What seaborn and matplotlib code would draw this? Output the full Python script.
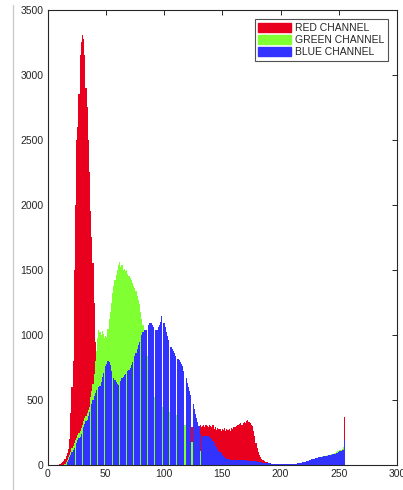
import numpy as np
import pandas as pd
import matplotlib
matplotlib.use("Agg")
import matplotlib.pyplot as plt
from matplotlib.patches import Patch
from matplotlib.lines import Line2D
import seaborn as sns

levels = list(range(256))

red_counts = (
    [0] * 10
    + [5, 10, 15, 20, 30, 50, 70, 90, 120, 200]
    + [400, 600, 800, 1500, 2000, 2500, 2600, 2850, 3150, 3250]
    + [3310, 3280, 3150, 2900, 2750, 2500, 2250, 1950, 1750, 1550]
    + [1250, 950, 750, 620, 560, 520, 500, 490, 480, 470]
    + [470, 460, 460, 450, 450, 440, 440, 430, 430, 420]
    + [420, 410, 410, 400, 400, 390, 390, 380, 380, 370]
    + [370, 360, 360, 350, 350, 350, 340, 340, 340, 330]
    + [330, 330, 320, 320, 320, 310, 310, 310, 300, 300]
    + [300, 300, 290, 290, 290, 290, 280, 280, 280, 280]
    + [280] * 10
    + [280, 280, 280, 280, 285, 285, 285, 290, 290, 290]
    + [290, 290, 290, 295, 295, 295, 300, 290, 300, 305]
    + [300, 310, 295, 300, 310, 290, 305, 300, 295, 310]
    + [300, 290, 305, 280, 295, 270, 285, 275, 280, 265]
    + [280, 270, 285, 260, 280, 270, 275, 265, 285, 280]
    + [290, 295, 300, 310, 305, 315, 320, 310, 325, 330]
    + [320, 335, 345, 330, 320, 310, 300, 260, 220, 170]
    + [130, 100, 80, 60, 50, 40, 30, 25, 20, 20]
    + [15, 12, 10, 10, 9, 8, 8, 7, 7, 6]
    + [6, 5, 5, 5, 5, 5, 5, 5, 5, 5]
    + [5] * 10
    + [5] * 10
    + [5, 5, 6, 6, 6, 7, 30, 35, 40, 45]
    + [50, 55, 60, 65, 70, 75, 75, 80, 85, 85]
    + [90, 95, 100, 105, 110, 370]
)

green_counts = (
    [0] * 15
    + [10, 20, 40, 60, 80]
    + [100, 130, 150, 170, 190, 210, 230, 250, 265, 285]
    + [310, 335, 360, 380, 400, 425, 450, 520, 570, 620]
    + [700, 800, 880, 980, 1040, 1020, 1000, 1030, 1010, 980]
    + [990, 985, 1050, 1120, 1180, 1250, 1320, 1380, 1420, 1460]
    + [1500, 1540, 1560, 1520, 1540, 1500, 1510, 1490, 1500, 1470]
    + [1450, 1440, 1420, 1400, 1380, 1360, 1340, 1300, 1270, 1240]
    + [1180, 1120, 1080, 1020, 980, 920, 840, 760, 660, 580]
    + [550, 530, 520, 510, 500, 490, 480, 470, 460, 450]
    + [440, 430, 425, 420, 415, 410, 405, 400, 395, 390]
    + [390, 385, 380, 375, 370, 365, 360, 340, 310, 280]
    + [250, 230, 210, 190, 180, 170, 160, 150, 145, 140]
    + [120, 105, 95, 85, 70, 60, 55, 45, 40, 35]
    + [35, 32, 30, 28, 26, 25, 24, 22, 20, 19]
    + [18, 17, 16, 15, 15, 14, 14, 13, 13, 12]
    + [12] * 10
    + [10] * 10
    + [9] * 10
    + [8] * 10
    + [8] * 10
    + [8, 8, 9, 9, 10, 11, 12, 14, 16, 18]
    + [20, 23, 26, 29, 32, 36, 40, 43, 46, 50]
    + [52, 55, 57, 60, 62, 64, 66, 68, 70, 72]
    + [74, 76, 78, 80, 84, 88, 92, 96, 100, 104]
    + [108, 112, 118, 126, 135, 120]
)

blue_counts = (
    [0] * 17
    + [20, 40, 60]
    + [80, 100, 115, 130, 0, 170, 190, 205, 215, 240]
    + [0, 290, 315, 335, 350, 380, 410, 0, 470, 500]
    + [530, 555, 575, 0, 600, 610, 640, 680, 710, 0]
    + [760, 780, 800, 790, 770, 720, 0, 670, 655, 640]
    + [625, 615, 0, 650, 670, 680, 690, 700, 0, 720]
    + [730, 745, 770, 790, 0, 840, 860, 890, 920, 950]
    + [0, 1000, 1020, 1040, 1035, 1040, 0, 1080, 1090, 1095]
    + [1080, 1060, 0, 1040, 1040, 1060, 1080, 1100, 1150, 0]
    + [1090, 1060, 1020, 990, 960, 0, 910, 890, 880, 860]
    + [840, 0, 815, 805, 795, 780, 760, 720, 0, 670]
    + [630, 600, 570, 540, 0, 470, 430, 390, 360, 330]
    + [300, 0, 240, 220, 215, 220, 225, 225, 220, 215]
    + [210, 200, 185, 170, 150, 135, 120, 110, 100, 90]
    + [80, 70, 62, 55, 50, 46, 44, 42, 40, 40]
    + [40, 40, 40, 38, 38, 38, 37, 37, 36, 36]
    + [35, 35, 34, 33, 32, 31, 30, 30, 28, 27]
    + [26, 25, 23, 21, 20, 18, 17, 16, 15, 14]
    + [13, 12, 11, 10, 10, 9, 9, 9, 8, 8]
    + [8] * 10
    + [8, 8, 9, 10, 11, 12, 14, 16, 18, 20]
    + [22, 25, 28, 31, 34, 37, 40, 43, 46, 50]
    + [52, 54, 56, 58, 60, 62, 64, 66, 68, 70]
    + [72, 74, 76, 78, 80, 82, 85, 88, 92, 96]
    + [100, 104, 108, 112, 118, 195]
)

channel_names = ["RED CHANNEL", "GREEN CHANNEL", "BLUE CHANNEL"]
channel_colors = ["#e8001e", "#80ff33", "#3333ff"]
x_ticks = [0, 50, 100, 150, 200, 250, 300]
y_ticks = [0, 500, 1000, 1500, 2000, 2500, 3000, 3500]

sns.set_theme(style="white")
plt.rcParams["font.family"] = ["Liberation Sans", "DejaVu Sans"]

W, H = 403, 490
fig = plt.figure(figsize=(W / 100, H / 100), dpi=100)
ax = fig.add_axes([47.5 / W, 25 / H, (397 - 47.5) / W, (465 - 10) / H])

df = pd.DataFrame({"level": levels, "red": red_counts,
                   "green": green_counts, "blue": blue_counts})
for col, color in zip(["red", "green", "blue"], channel_colors):
    sns.histplot(data=df, x="level", weights=col, discrete=True,
                 color=color, alpha=1, linewidth=0, ax=ax)

ax.set_xlim(0, 300)
ax.set_ylim(0, 3500)
ax.set_xticks(x_ticks)
ax.set_yticks(y_ticks)
ax.set_xlabel("")
ax.set_ylabel("")
for s in ax.spines.values():
    s.set_color("#262626")
    s.set_linewidth(0.8)
ax.tick_params(direction="in", top=True, right=True, length=3.5, width=0.7,
               color="#262626", labelsize=7.5, labelcolor="#262626", pad=3)

handles = [Patch(facecolor=c, edgecolor=c) for c in channel_colors]
leg = ax.legend(handles, channel_names, loc="upper right", fontsize=7.5,
                frameon=True, fancybox=False, handlelength=3.1,
                handleheight=0.95, handletextpad=0.4, labelspacing=0.2,
                borderpad=0.35, borderaxespad=0.9)
leg.get_frame().set_edgecolor("#262626")
leg.get_frame().set_linewidth(0.8)

fig.add_artist(Line2D([13.5 / W, 13.5 / W], [0, 1 - 5 / H], color="#cccccc",
                      lw=1, transform=fig.transFigure))

fig.savefig("out.png", dpi=100)
